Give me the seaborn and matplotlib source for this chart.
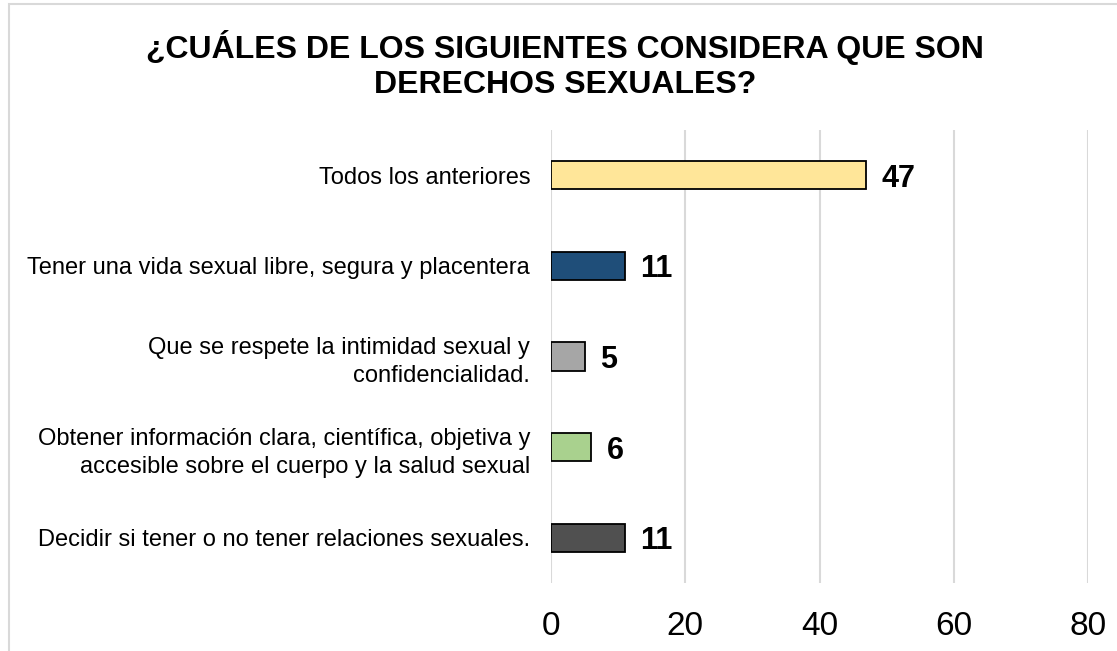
import matplotlib
matplotlib.use("Agg")
import matplotlib.pyplot as plt
import seaborn as sns
import pandas as pd
from matplotlib.patches import Rectangle
from matplotlib import font_manager

categories = [
    "Todos los anteriores",
    "Tener una vida sexual libre, segura y placentera",
    "Que se respete la intimidad sexual y\nconfidencialidad.",
    "Obtener información clara, científica, objetiva y\naccesible sobre el cuerpo y la salud sexual",
    "Decidir si tener o no tener relaciones sexuales.",
]
values = [47, 11, 5, 6, 11]
colors = ["#FFE699", "#1F4E79", "#A6A6A6", "#A9D18E", "#505050"]
x_ticks = [0, 20, 40, 60, 80]

sns.set_style("white")
plt.rcParams["font.family"] = ["Liberation Sans", "DejaVu Sans"]
plt.rcParams["text.color"] = "black"
plt.rcParams["xtick.color"] = "black"
plt.rcParams["ytick.color"] = "black"

names = {f.name for f in font_manager.fontManager.ttflist}
tick_font = "Liberation Sans Narrow" if "Liberation Sans Narrow" in names else "Liberation Sans"

df = pd.DataFrame({"cat": categories, "val": values})

fig = plt.figure(figsize=(11.17, 6.51), dpi=100)
ax = fig.add_axes([551 / 1117, 1 - 583 / 651, 537 / 1117, 453 / 651])

sns.barplot(data=df, x="val", y="cat", hue="cat", palette=colors, legend=False,
            orient="h", width=0.31, saturation=1, edgecolor="black", linewidth=1.3, ax=ax)

for cont in ax.containers:
    labels = ax.bar_label(cont, padding=11, fontsize=22, fontweight="bold", color="black")
    for t in labels:
        t.set_va("center_baseline")

ax.set_xlim(0, 80)
ax.set_ylim(4.5, -0.5)
ax.set_xticks(x_ticks)
ax.grid(axis="x", color="#D9D9D9", linewidth=1.5)
ax.set_axisbelow(True)
for s in ax.spines.values():
    s.set_visible(False)
ax.tick_params(axis="x", length=0, labelsize=24, pad=20)
ax.tick_params(axis="y", length=0, labelsize=17, pad=15)
for lb in ax.get_xticklabels():
    lb.set_fontfamily(tick_font)
for lb in ax.get_yticklabels():
    lb.set_linespacing(1.35)
ax.set_xlabel("")
ax.set_ylabel("")

fig.text(565 / 1117, 1 - 65 / 651,
         "¿CUÁLES DE LOS SIGUIENTES CONSIDERA QUE SON\nDERECHOS SEXUALES?",
         ha="center", va="center", fontsize=23, fontweight="bold", linespacing=1.25)

fig.patches.append(Rectangle((9 / 1117, -0.1), 1.2, 1.1 - 4 / 651, transform=fig.transFigure,
                             fill=False, edgecolor="#D9D9D9", linewidth=1.5))

plt.savefig("out.png", dpi=100)
plt.close()
